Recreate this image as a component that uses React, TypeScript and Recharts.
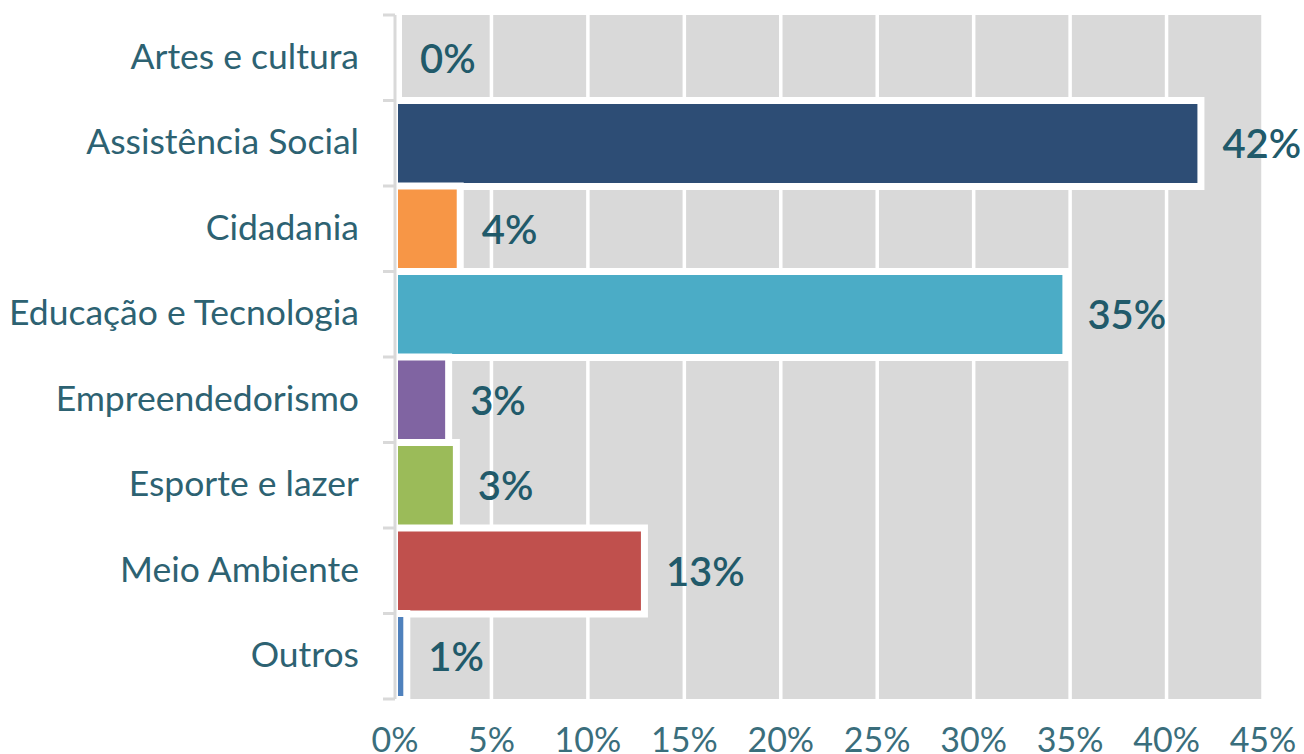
import React from 'react';
import { BarChart, Bar, XAxis, YAxis, CartesianGrid, LabelList } from 'recharts';

const categories = [
  'Artes e cultura',
  'Assistência Social',
  'Cidadania',
  'Educação e Tecnologia',
  'Empreendedorismo',
  'Esporte e lazer',
  'Meio Ambiente',
  'Outros',
];
const values = [0, 41.6, 3.2, 34.6, 2.6, 3.0, 12.75, 0.43];
const valueLabels = ['0%', '42%', '4%', '35%', '3%', '3%', '13%', '1%'];
const barColors = ['#7f7f7f', '#2d4d75', '#f79646', '#4bacc6', '#8064a2', '#9bbb59', '#c0504d', '#4f81bd'];
const xTicks = [0, 5, 10, 15, 20, 25, 30, 35, 40, 45];
const xTickLabels = ['0%', '5%', '10%', '15%', '20%', '25%', '30%', '35%', '40%', '45%'];

const data = categories.map((name, i) => ({ name, value: values[i], label: valueLabels[i] }));

const FONT = 'Lato, "Open Sans", sans-serif';
const CAT_COLOR = '#2d6272';
const TICK_COLOR = '#3a6e7c';
const VALUE_COLOR = '#215a6a';
const AXIS_GRAY = '#d9d9d9';
const PLOT_LEFT = 395;

const BarShape = (props: any) => {
  const { x, y, width, height, index } = props;
  const w = Math.max(0, width || 0);
  return (
    <g>
      <rect x={x - 3} y={y - 3.5} width={w + 10} height={height + 7} fill="#ffffff" />
      {w > 3 && (
        <rect x={x + 3} y={y + 3.5} width={w - 3} height={height - 7} fill={barColors[index]} />
      )}
    </g>
  );
};

const CategoryTick = (props: any) => {
  const { y, payload, index } = props;
  const half = payload && payload.offset ? payload.offset : 42.75;
  const last = index === categories.length - 1;
  return (
    <g>
      <line x1={PLOT_LEFT - 12} x2={PLOT_LEFT} y1={y - half} y2={y - half} stroke={AXIS_GRAY} strokeWidth={3} />
      {last && (
        <line x1={PLOT_LEFT - 12} x2={PLOT_LEFT} y1={y + half} y2={y + half} stroke={AXIS_GRAY} strokeWidth={3} />
      )}
      <text x={359} y={y + 11} textAnchor="end" fontFamily={FONT} fontSize={35.5} fill={CAT_COLOR}>
        {payload.value}
      </text>
    </g>
  );
};

const XTick = (props: any) => {
  const { x, index } = props;
  return (
    <text x={x} y={752} textAnchor="middle" fontFamily={FONT} fontSize={34} fill={TICK_COLOR}>
      {xTickLabels[index]}
    </text>
  );
};

const ValueLabel = (props: any) => {
  const { x, y, width, height, index } = props;
  return (
    <text
      x={x + Math.max(0, width) + 25}
      y={y + height / 2 + 14.5}
      textAnchor="start"
      fontFamily={FONT}
      fontSize={40}
      fontWeight={600}
      fill={VALUE_COLOR}
    >
      {valueLabels[index]}
    </text>
  );
};

export default function App() {
  return (
    <div style={{ position: 'absolute', left: 0, top: 0, width: 1304, height: 754, background: '#ffffff' }}>
      <BarChart
        width={1304}
        height={754}
        data={data}
        layout="vertical"
        barCategoryGap={0}
        margin={{ top: 15, right: 41, bottom: 0, left: 0 }}
      >
        <CartesianGrid horizontal={false} stroke="#ffffff" strokeWidth={3.5} fill="#d9d9d9" />
        <XAxis
          type="number"
          domain={[0, 45]}
          ticks={xTicks}
          interval={0}
          height={55}
          axisLine={false}
          tickLine={false}
          tick={<XTick />}
        />
        <Bar dataKey="value" isAnimationActive={false} shape={<BarShape />}>
          <LabelList dataKey="label" content={<ValueLabel />} />
        </Bar>
        <YAxis
          type="category"
          dataKey="name"
          width={395}
          axisLine={{ stroke: AXIS_GRAY, strokeWidth: 3 }}
          tickLine={false}
          interval={0}
          tick={<CategoryTick />}
        />
      </BarChart>
    </div>
  );
}
